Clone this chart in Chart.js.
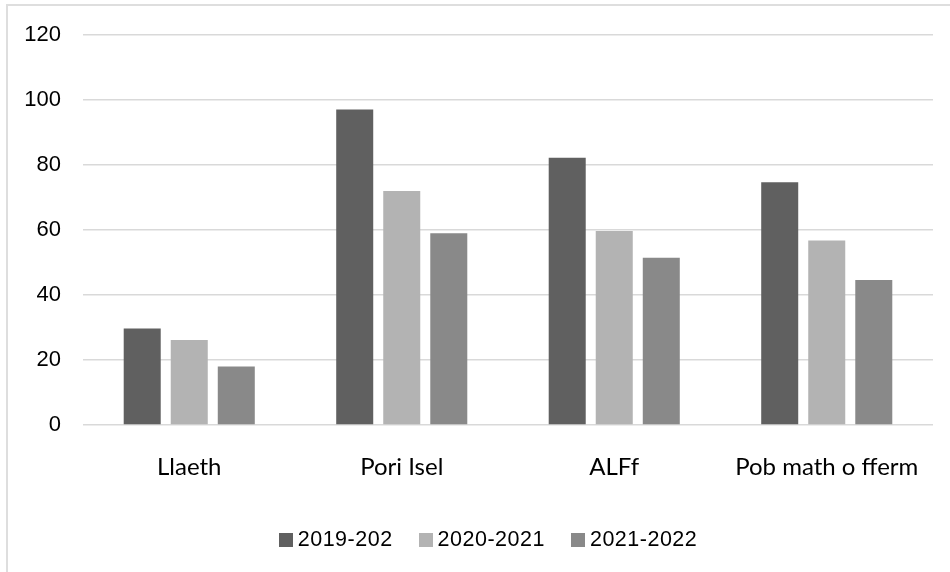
<!DOCTYPE html>
<html>
<head>
<meta charset="utf-8">
<script src="https://cdn.jsdelivr.net/npm/chart.js@4"></script>
<style>
  html, body { margin: 0; padding: 0; background: #fff; overflow: hidden; }
  #wrap { position: relative; width: 950px; height: 572px; }
  #frame {
    position: absolute; left: 6px; top: 4px; width: 980px; height: 600px;
    border: 2px solid #dedede; box-sizing: border-box;
  }
  canvas { position: absolute; left: 0; top: 0; }
  #legend {
    position: absolute; left: 0; top: 527px; width: 950px; padding-left: 26px;
    box-sizing: border-box; display: flex; justify-content: center; align-items: center;
    font-family: "Liberation Sans", Arial, sans-serif; font-size: 21.5px; letter-spacing: 0.5px; color: #000;
  }
  .item { display: flex; align-items: center; margin: 0 13px; }
  .box { width: 14px; height: 14px; margin-right: 5px; }
</style>
</head>
<body>
<div id="wrap">
  <div id="frame"></div>
  <canvas id="chart" width="950" height="572"></canvas>
  <div id="legend"></div>
</div>
<script>
// categories + series
const categories = ['Llaeth', 'Pori Isel', 'ALFf', 'Pob math o fferm'];
const seriesLabels = ['2019-202', '2020-2021', '2021-2022'];
const values2019 = [29.7, 97.1, 82.3, 74.7];
const values2020 = [26.2, 72.0, 59.7, 56.8];
const values2021 = [18.0, 59.0, 51.5, 44.6];
const yTicks = [0, 20, 40, 60, 80, 100, 120];

const colors = ['#606060', '#b3b3b3', '#898989'];
const seriesData = [values2019, values2020, values2021];

const datasets = seriesLabels.map((label, i) => ({
    label: label,
    data: seriesData[i],
    backgroundColor: colors[i],
    borderWidth: 0,
    categoryPercentage: 0.664,
    barPercentage: 0.787
}));

const ctx = document.getElementById('chart').getContext('2d');
new Chart(ctx, {
    type: 'bar',
    data: { labels: categories, datasets: datasets },
    options: {
        responsive: false,
        animation: false,
        layout: { padding: { top: 33, right: 17, left: 0, bottom: 0 } },
        plugins: {
            legend: { display: false },
            tooltip: { enabled: false }
        },
        scales: {
            x: {
                grid: { display: false, drawTicks: false },
                border: { display: false },
                ticks: {
                    color: '#000',
                    padding: 28,
                    maxRotation: 0,
                    font: { family: 'Lato, "Open Sans", sans-serif', size: 24 }
                },
                afterFit: (scale) => { scale.height = 147; }
            },
            y: {
                min: yTicks[0],
                max: yTicks[yTicks.length - 1],
                afterBuildTicks: (scale) => {
                    scale.ticks = yTicks.map(v => ({ value: v }));
                },
                grid: { color: '#d9d9d9', lineWidth: 1.5, drawTicks: false },
                border: { display: false },
                ticks: {
                    color: '#000',
                    padding: 22,
                    font: { family: '"Liberation Sans", Arial, sans-serif', size: 22 }
                },
                afterFit: (scale) => { scale.width = 83; }
            }
        }
    }
});

// legend (html, tighter box/text gap than the built-in one)
const legendEl = document.getElementById('legend');
seriesLabels.forEach((label, i) => {
    const item = document.createElement('div');
    item.className = 'item';
    item.innerHTML = '<span class="box" style="background:' + colors[i] + '"></span><span>' + label + '</span>';
    legendEl.appendChild(item);
});
</script>
</body>
</html>
